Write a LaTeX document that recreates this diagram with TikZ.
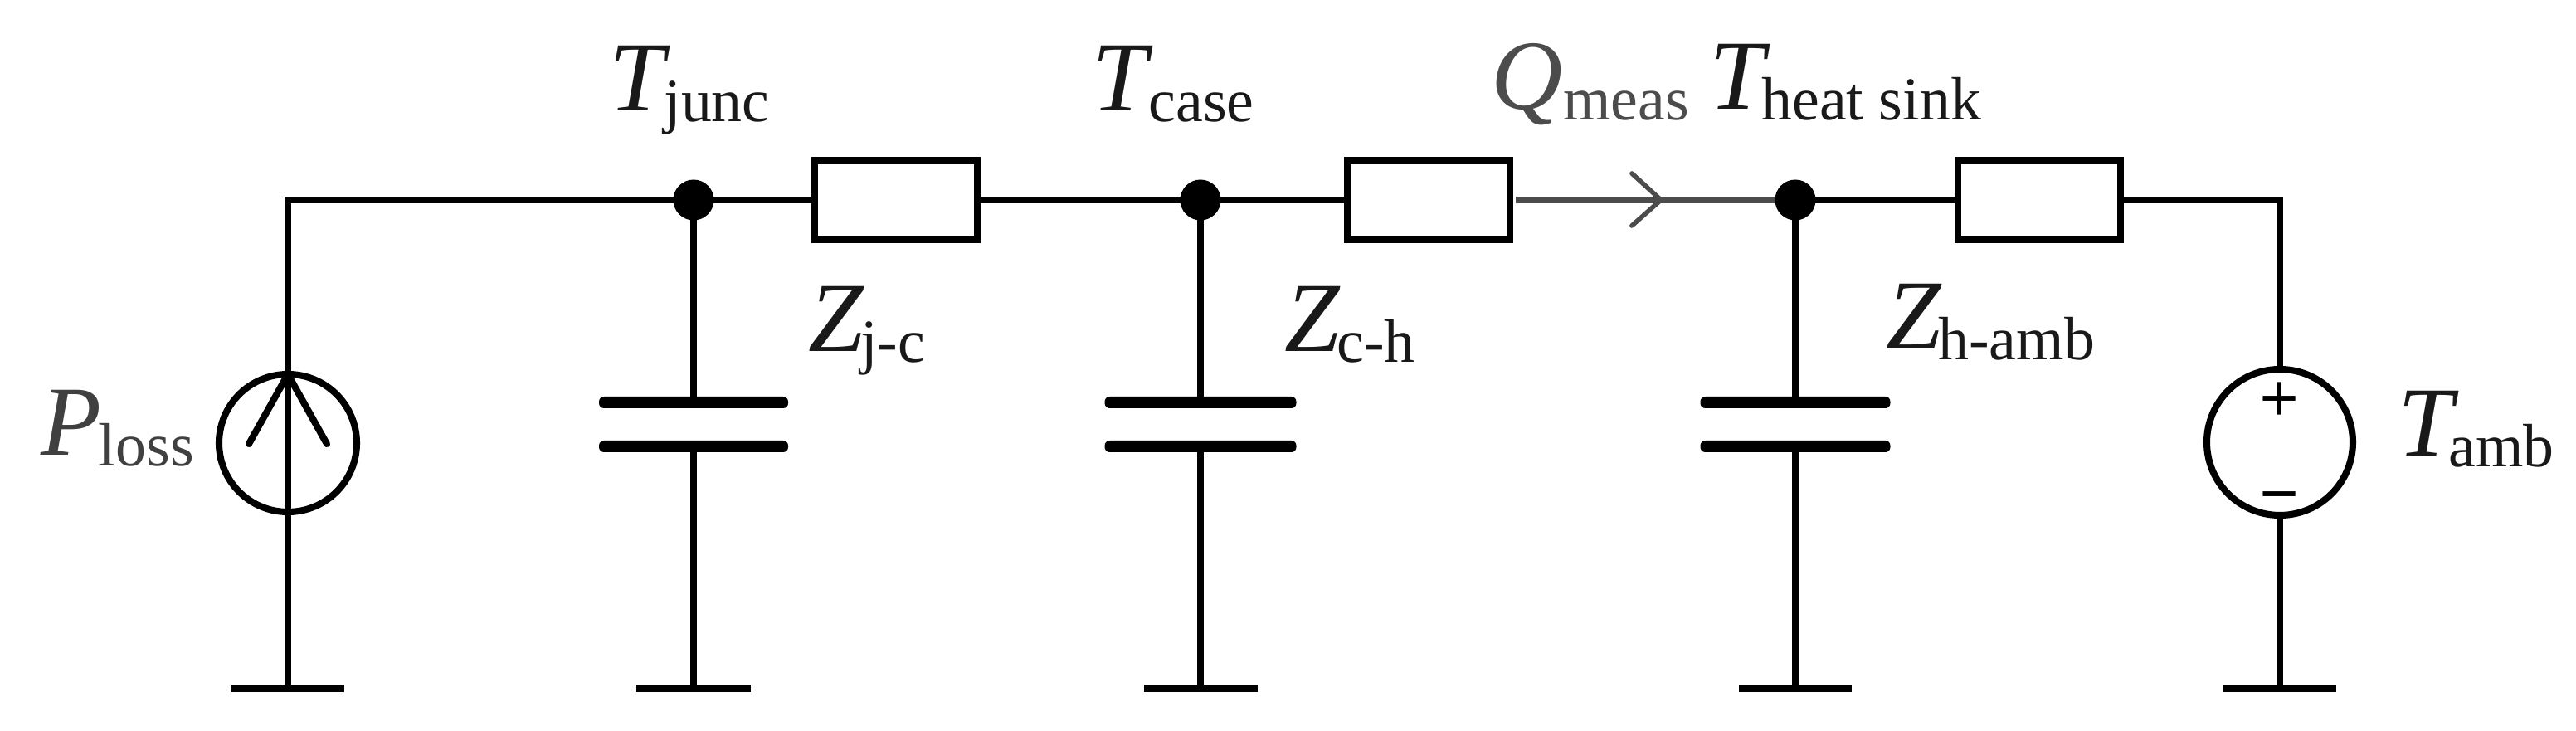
\documentclass[tikz,border=0pt]{standalone}
\usepackage{fontspec}
\setmainfont{Liberation Serif}
\newcommand{\biglab}[3]{\fontsize{34}{40}\selectfont\textit{#1}\kern#3\raisebox{-0.13cm}{\fontsize{21}{24}\selectfont #2}}
\tikzset{
	wire/.style={line width=2.3pt, black, line cap=rect},
	dotnode/.style={circle, fill=black, inner sep=0pt, outer sep=0pt, minimum size=0.49cm},
	plate/.style={rectangle, rounded corners=0.06cm, fill=black, inner sep=0pt, outer sep=0pt, minimum height=0.14cm},
	gnd/.style={rectangle, fill=black, inner sep=0pt, outer sep=0pt, minimum height=0.09cm},
	resbox/.style={draw, line width=2.3pt, rectangle, inner sep=0pt, outer sep=0pt, minimum height=0.95cm},
	srcbox/.style={draw, line width=2.3pt, circle, inner sep=0pt, outer sep=0pt},
	lab/.style={anchor=base west, inner sep=0pt, outer sep=0pt, text=black!90}
}
\begin{document}
\begin{tikzpicture}
	\useasboundingbox (0,0) rectangle (31.05,-8.81);
	
	%Power loss source
	\coordinate (cornerL) at (3.47,-2.41);
	\node (srcLoss) at (3.47,-5.34) [srcbox, minimum size=1.66cm]{};
	\node (gndLoss) at (3.47,-8.29) [gnd, minimum width=1.36cm]{};
	\coordinate (barbLossL) at (3.00,-5.35);
	\coordinate (barbLossR) at (3.94,-5.35);
	\draw[wire] (gndLoss) -- (cornerL);
	\draw[wire, line cap=round] (barbLossL) -- (srcLoss.north) -- (barbLossR);
	\node[lab, text=black!75] (labLoss) at (0.50,-5.49) {\biglab{P}{loss}{-0.04cm}};
	
	%Junction
	\node (dotJunc) at (8.36,-2.41) [dotnode]{};
	\node (capJuncA) at (8.36,-4.85) [plate, minimum width=2.28cm]{};
	\node (capJuncB) at (8.36,-5.38) [plate, minimum width=2.28cm]{};
	\node (gndJunc) at (8.36,-8.29) [gnd, minimum width=1.38cm]{};
	\node (resJunc) at (10.80,-2.41) [resbox, minimum width=1.96cm]{};
	\draw[wire] (cornerL) -- (dotJunc);
	\draw[wire] (dotJunc) -- (resJunc);
	\draw[wire] (dotJunc) -- (capJuncA);
	\draw[wire] (capJuncB) -- (gndJunc);
	\node[lab] (labJunc) at (7.34,-1.34) {\biglab{T}{junc}{-0.07cm}};
	\node[lab] (labZjc) at (9.74,-4.24) {\biglab{Z}{j-c}{-0.04cm}};
	
	%Case
	\node (dotCase) at (14.47,-2.41) [dotnode]{};
	\node (capCaseA) at (14.47,-4.85) [plate, minimum width=2.31cm]{};
	\node (capCaseB) at (14.47,-5.38) [plate, minimum width=2.31cm]{};
	\node (gndCase) at (14.47,-8.29) [gnd, minimum width=1.37cm]{};
	\node (resCase) at (17.22,-2.41) [resbox, minimum width=1.96cm]{};
	\draw[wire] (resJunc) -- (dotCase);
	\draw[wire] (dotCase) -- (resCase);
	\draw[wire] (dotCase) -- (capCaseA);
	\draw[wire] (capCaseB) -- (gndCase);
	\node[lab] (labCase) at (13.16,-1.34) {\biglab{T}{case}{-0.05cm}};
	\node[lab] (labZch) at (15.48,-4.24) {\biglab{Z}{c-h}{-0.04cm}};
	
	%Heat sink
	\node (dotSink) at (21.64,-2.41) [dotnode]{};
	\node (capSinkA) at (21.64,-4.85) [plate, minimum width=2.29cm]{};
	\node (capSinkB) at (21.64,-5.38) [plate, minimum width=2.29cm]{};
	\node (gndSink) at (21.64,-8.29) [gnd, minimum width=1.36cm]{};
	\node (resSink) at (24.58,-2.41) [resbox, minimum width=1.96cm]{};
	\draw[wire] (dotSink) -- (resSink);
	\draw[wire] (dotSink) -- (capSinkA);
	\draw[wire] (capSinkB) -- (gndSink);
	\node[lab] (labSink) at (20.60,-1.32) {\biglab{T}{heat sink}{-0.10cm}};
	\node[lab] (labZha) at (22.73,-4.21) {\biglab{Z}{h-amb}{-0.04cm}};
	
	%Measured flow
	\coordinate (tipMeas) at (20.02,-2.41);
	\coordinate (barbMeasA) at (19.67,-2.09);
	\coordinate (barbMeasB) at (19.67,-2.72);
	\draw[line width=2.3pt, black!70, shorten <=0.07cm] (resCase) -- (dotSink);
	\draw[line width=1.6pt, black!70, line cap=round] (barbMeasA) -- (tipMeas) -- (barbMeasB);
	\node[lab, text=black!70] (labMeas) at (17.97,-1.32) {\biglab{Q}{meas}{0.01cm}};
	
	%Ambient source
	\coordinate (cornerR) at (27.48,-2.41);
	\node (srcAmb) at (27.48,-5.33) [srcbox, minimum size=1.76cm]{};
	\node (gndAmb) at (27.48,-8.29) [gnd, minimum width=1.36cm]{};
	\draw[wire] (resSink) -- (cornerR) -- (srcAmb);
	\draw[wire] (srcAmb) -- (gndAmb);
	\node (plusAmb) at (27.48,-4.85) [inner sep=0pt]{\fontsize{24}{26}\selectfont\bfseries +};
	\node (minusAmb) at (27.48,-6.08) [inner sep=0pt]{\fontsize{24}{26}\selectfont\bfseries \textminus};
	\node[lab] (labAmb) at (28.90,-5.50) {\biglab{T}{amb}{-0.12cm}};
\end{tikzpicture}
\end{document}
